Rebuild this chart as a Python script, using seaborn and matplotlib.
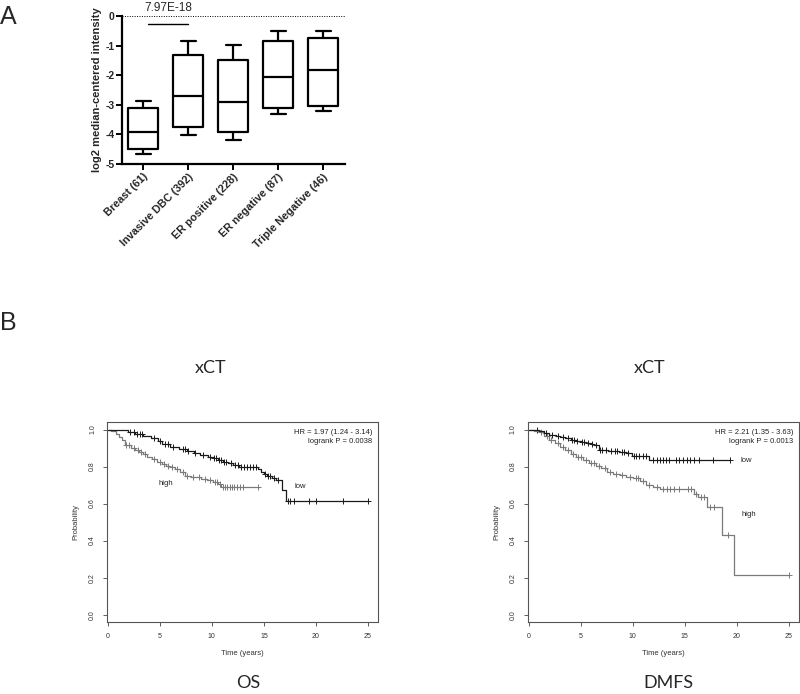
import numpy as np
import pandas as pd
import matplotlib.pyplot as plt
import seaborn as sns

sns.set_style('white')
plt.rcParams['font.family'] = ['Liberation Sans', 'DejaVu Sans']

# Panel A - box plot five-number summaries (min, q1, median, q3, max)
groups = ['Breast (61)', 'Invasive DBC (392)', 'ER positive (228)', 'ER negative (87)', 'Triple Negative (46)']
breast = [-4.66, -4.48, -3.93, -3.12, -2.86]
invasive = [-4.01, -3.76, -2.72, -1.32, -0.86]
er_pos = [-4.18, -3.91, -2.89, -1.50, -0.98]
er_neg = [-3.32, -3.12, -2.07, -0.85, -0.52]
triple_neg = [-3.20, -3.03, -1.83, -0.76, -0.50]
p_text = '7.97E-18'

# Panel B - Kaplan-Meier curves (step times and survival)
os_low_t = [0, 1.9, 2.6, 3.4, 4.2, 4.8, 5.2, 6.0, 6.8, 7.6, 8.3, 8.9, 9.6, 10.1, 10.6, 11.1, 11.6, 12.0, 12.6, 13.0,
            14.4, 14.7, 15.0, 15.3, 15.8, 16.2, 16.7, 17.1, 25.0]
os_low_s = [1.0, 0.985, 0.975, 0.965, 0.955, 0.94, 0.92, 0.905, 0.895, 0.884, 0.872, 0.862, 0.852, 0.845, 0.835, 0.826,
            0.818, 0.81, 0.80, 0.797, 0.785, 0.773, 0.76, 0.75, 0.74, 0.728, 0.675, 0.615, 0.615]
os_low_cens_t = [2.1, 2.5, 2.8, 3.1, 3.3, 4.4, 5.0, 5.5, 5.8, 6.3, 7.2, 7.4, 7.7, 8.4, 9.2, 9.8, 10.2, 10.4, 10.7, 10.9,
                 11.2, 11.4, 11.8, 12.2, 12.5, 12.8, 13.1, 13.4, 13.7, 14.0, 14.2, 15.1, 15.4, 15.6, 16.0, 16.4, 17.3,
                 17.5, 17.9, 19.3, 20.0, 22.6, 25.0]
os_low_cens_s = [0.985, 0.985, 0.975, 0.975, 0.975, 0.955, 0.94, 0.92, 0.92, 0.905, 0.895, 0.895, 0.884, 0.872, 0.862,
                 0.852, 0.845, 0.845, 0.835, 0.835, 0.826, 0.826, 0.818, 0.81, 0.81, 0.80, 0.797, 0.797, 0.797, 0.797,
                 0.797, 0.76, 0.75, 0.75, 0.74, 0.728, 0.615, 0.615, 0.615, 0.615, 0.615, 0.615, 0.615]

os_high_t = [0, 0.3, 0.8, 1.1, 1.4, 1.7, 2.2, 2.6, 3.0, 3.4, 3.8, 4.3, 4.7, 5.2, 5.6, 6.0, 6.5, 6.9, 7.4, 8.0, 8.5, 9.0,
             9.5, 10.1, 10.6, 10.9, 14.5]
os_high_s = [1.0, 0.99, 0.977, 0.96, 0.943, 0.916, 0.903, 0.89, 0.88, 0.87, 0.853, 0.84, 0.826, 0.815, 0.805, 0.796,
             0.785, 0.773, 0.75, 0.746, 0.742, 0.735, 0.728, 0.716, 0.705, 0.69, 0.69]
os_high_cens_t = [1.8, 2.0, 2.5, 2.9, 3.2, 3.6, 4.4, 5.0, 5.4, 5.8, 6.2, 6.7, 7.2, 7.6, 8.2, 8.8, 9.3, 9.8, 10.3, 10.5,
                  10.8, 11.1, 11.3, 11.5, 11.7, 11.9, 12.1, 12.4, 12.7, 13.0, 14.4]
os_high_cens_s = [0.916, 0.916, 0.903, 0.89, 0.88, 0.87, 0.84, 0.826, 0.815, 0.805, 0.796, 0.785, 0.773, 0.75, 0.746,
                  0.742, 0.735, 0.728, 0.716, 0.716, 0.705, 0.69, 0.69, 0.69, 0.69, 0.69, 0.69, 0.69, 0.69, 0.69, 0.69]

dm_low_t = [0, 0.5, 1.0, 1.5, 2.0, 2.6, 3.0, 3.5, 4.1, 4.6, 5.0, 5.5, 6.0, 6.3, 6.8, 7.2, 7.6, 8.1, 8.7, 9.4, 9.9, 11.6,
            19.4]
dm_low_s = [1.0, 0.995, 0.99, 0.982, 0.973, 0.967, 0.96, 0.952, 0.943, 0.937, 0.933, 0.928, 0.922, 0.916, 0.892, 0.888,
            0.886, 0.883, 0.878, 0.874, 0.858, 0.835, 0.835]
dm_low_cens_t = [0.8, 1.7, 2.3, 2.8, 3.3, 3.8, 4.2, 4.4, 4.7, 5.1, 5.3, 5.7, 6.1, 6.5, 6.9, 7.1, 7.4, 7.9, 8.3, 8.5, 9.0,
                 9.2, 9.6, 10.1, 10.3, 10.6, 11.0, 11.3, 12.0, 12.3, 12.6, 12.9, 13.2, 13.5, 14.2, 14.5, 14.8, 15.2,
                 15.5, 15.9, 16.4, 17.7, 19.4]
dm_low_cens_s = [0.995, 0.982, 0.973, 0.967, 0.96, 0.952, 0.943, 0.943, 0.937, 0.933, 0.933, 0.928, 0.922, 0.916,
                 0.892, 0.892, 0.888, 0.886, 0.883, 0.883, 0.878, 0.878, 0.874, 0.858, 0.858, 0.858, 0.858, 0.858,
                 0.835, 0.835, 0.835, 0.835, 0.835, 0.835, 0.835, 0.835, 0.835, 0.835, 0.835, 0.835, 0.835, 0.835,
                 0.835]

dm_high_t = [0, 0.5, 1.0, 1.5, 2.0, 2.5, 3.0, 3.5, 4.1, 4.6, 5.2, 5.8, 6.5, 7.0, 7.5, 8.1, 8.75, 9.4, 10.0, 10.7, 11.3,
             12.0, 12.6, 15.9, 16.3, 17.1, 18.6, 19.7, 25.0]
dm_high_s = [1.0, 0.992, 0.985, 0.965, 0.943, 0.925, 0.907, 0.888, 0.867, 0.852, 0.835, 0.82, 0.803, 0.79, 0.772, 0.762,
             0.754, 0.745, 0.736, 0.72, 0.70, 0.69, 0.679, 0.65, 0.637, 0.58, 0.43, 0.215, 0.215]
dm_high_cens_t = [1.2, 1.8, 2.2, 2.8, 3.3, 3.8, 4.3, 4.8, 5.0, 5.5, 6.0, 6.3, 6.8, 7.3, 7.8, 8.4, 9.0, 9.7, 10.3, 10.5,
                  11.0, 11.6, 12.3, 12.9, 13.3, 13.6, 14.0, 14.5, 15.3, 15.6, 16.1, 16.6, 16.9, 17.4, 17.8, 19.2, 25.0]
dm_high_cens_s = [0.985, 0.965, 0.943, 0.925, 0.907, 0.888, 0.867, 0.852, 0.852, 0.835, 0.82, 0.82, 0.803, 0.79, 0.772,
                  0.762, 0.754, 0.745, 0.736, 0.736, 0.72, 0.70, 0.69, 0.679, 0.679, 0.679, 0.679, 0.679, 0.679, 0.679,
                  0.65, 0.637, 0.637, 0.58, 0.58, 0.43, 0.215]

fig = plt.figure(figsize=(8, 6.94), dpi=100)

# ---------------- Panel A ----------------
axA = fig.add_axes([0.1525, 0.7637, 0.279, 0.2133])
df = pd.DataFrame({
    'group': np.repeat(groups, 5),
    'value': breast + invasive + er_pos + er_neg + triple_neg,
})
sns.boxplot(data=df, x='group', y='value', whis=(0, 100), width=0.67, fill=False, color='black',
            linewidth=1.6, ax=axA)
axA.set_ylim(-5, 0)
axA.set_xlim(-0.47, 4.49)
axA.set_yticks([0, -1, -2, -3, -4, -5])
axA.set_yticklabels(['0', '-1', '-2', '-3', '-4', '-5'], fontsize=7.5, fontweight='bold')
axA.set_xticks(range(5))
axA.set_xticklabels(groups, rotation=45, ha='right', rotation_mode='anchor', fontsize=7.8, fontweight='bold')
axA.set_xlabel('')
axA.set_ylabel('log2 median-centered intensity', fontsize=8, fontweight='bold', labelpad=2)
for s in ['top', 'right']:
    axA.spines[s].set_visible(False)
for s in ['left', 'bottom']:
    axA.spines[s].set_linewidth(1.6)
    axA.spines[s].set_color('black')
axA.tick_params(axis='both', direction='out', length=4, width=1.4, color='black', pad=1.5, left=True, bottom=True)
axA.axhline(0, ls=(0, (1, 1.5)), color='black', lw=0.7, clip_on=False)
axA.plot([0.1, 1.0], [-0.26, -0.26], color='black', lw=1.0)
axA.text(0.55, 0.06, p_text, ha='center', va='bottom', fontsize=8.5, clip_on=False)

fig.text(0.0, 1 - 17 / 694, 'A', fontsize=18, ha='left', va='center')
fig.text(0.0, 1 - 323 / 694, 'B', fontsize=18, ha='left', va='center')


# ---------------- Panel B ----------------
def km_panel(ax, low_t, low_s, lct, lcs, high_t, high_s, hct, hcs, hr, pv, low_pos, high_pos):
    sns.lineplot(x=high_t, y=high_s, drawstyle='steps-post', estimator=None, sort=False, color='#7a7a7a',
                 lw=0.9, ax=ax)
    sns.lineplot(x=low_t, y=low_s, drawstyle='steps-post', estimator=None, sort=False, color='#1a1a1a',
                 lw=0.9, ax=ax)
    sns.scatterplot(x=hct, y=hcs, marker='+', s=22, color='#7a7a7a', linewidth=0.7, ax=ax)
    sns.scatterplot(x=lct, y=lcs, marker='+', s=22, color='#1a1a1a', linewidth=0.7, ax=ax)
    ax.set_xlim(-0.05, 26)
    ax.set_ylim(-0.04, 1.04)
    ax.set_xticks([0, 5, 10, 15, 20, 25])
    ax.set_yticks([0.0, 0.2, 0.4, 0.6, 0.8, 1.0])
    ax.set_yticklabels(['0.0', '0.2', '0.4', '0.6', '0.8', '1.0'], rotation=90, va='center')
    ax.tick_params(axis='both', direction='out', length=3, width=0.6, color='#444444', labelsize=5,
                   labelcolor='#333333', pad=5, left=True, bottom=True)
    for s in ax.spines.values():
        s.set_color('#555555')
        s.set_linewidth(0.8)
    ax.set_xlabel('Time (years)', fontsize=5.5, color='#333333', labelpad=7)
    ax.set_ylabel('Probability', fontsize=5.5, color='#333333', labelpad=7)
    ax.text(25.4, 0.985, hr, ha='right', va='center', fontsize=5.5, color='#222222')
    ax.text(25.4, 0.935, pv, ha='right', va='center', fontsize=5.5, color='#222222')
    ax.text(low_pos[0], low_pos[1], 'low', ha='center', va='center', fontsize=5.5, color='#222222')
    ax.text(high_pos[0], high_pos[1], 'high', ha='center', va='center', fontsize=5.5, color='#222222')


axB1 = fig.add_axes([0.134, 0.1037, 0.339, 0.288])
km_panel(axB1, os_low_t, os_low_s, os_low_cens_t, os_low_cens_s, os_high_t, os_high_s, os_high_cens_t,
         os_high_cens_s, 'HR = 1.97 (1.24 - 3.14)', 'logrank P = 0.0038', (18.5, 0.69), (5.6, 0.71))

axB2 = fig.add_axes([0.66, 0.1037, 0.339, 0.288])
km_panel(axB2, dm_low_t, dm_low_s, dm_low_cens_t, dm_low_cens_s, dm_high_t, dm_high_s, dm_high_cens_t,
         dm_high_cens_s, 'HR = 2.21 (1.35 - 3.63)', 'logrank P = 0.0013', (20.9, 0.835), (21.2, 0.54))

title_font = ['Lato', 'DejaVu Sans']
fig.text(211 / 800, 1 - 368 / 694, 'xCT', fontsize=13, ha='center', va='center', family=title_font)
fig.text(650 / 800, 1 - 368 / 694, 'xCT', fontsize=13, ha='center', va='center', family=title_font)
fig.text(248 / 800, 1 - 683 / 694, 'OS', fontsize=13, ha='center', va='center', family=title_font)
fig.text(668 / 800, 1 - 683 / 694, 'DMFS', fontsize=13, ha='center', va='center', family=title_font)

plt.savefig('out.png', dpi=100)
plt.close()
